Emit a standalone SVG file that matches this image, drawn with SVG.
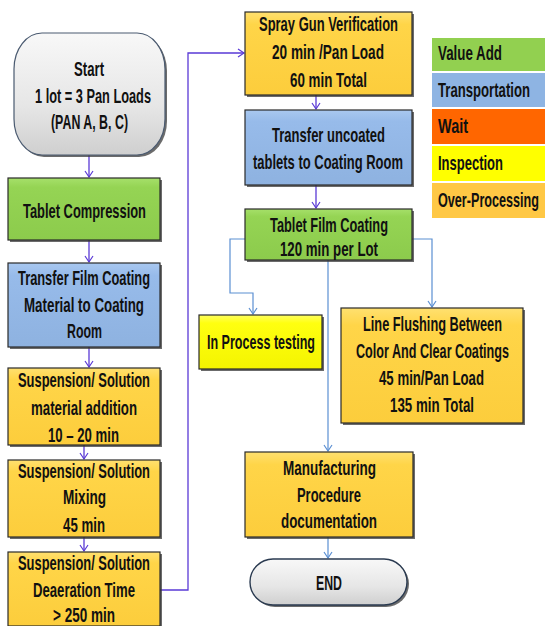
<svg xmlns="http://www.w3.org/2000/svg" width="545" height="626" viewBox="0 0 545 626">
<defs>
<linearGradient id="gGreen" x1="0" y1="0" x2="0" y2="1"><stop offset="0" stop-color="#a6e06a"/><stop offset="0.15" stop-color="#95d454"/><stop offset="1" stop-color="#8ccb4c"/></linearGradient>
<linearGradient id="gBlue" x1="0" y1="0" x2="0" y2="1"><stop offset="0" stop-color="#a9c8f0"/><stop offset="0.15" stop-color="#97bbea"/><stop offset="1" stop-color="#8eb2e0"/></linearGradient>
<linearGradient id="gGold" x1="0" y1="0" x2="0" y2="1"><stop offset="0" stop-color="#ffe070"/><stop offset="0.15" stop-color="#ffd548"/><stop offset="1" stop-color="#fccd3c"/></linearGradient>
<linearGradient id="gYellow" x1="0" y1="0" x2="0" y2="1"><stop offset="0" stop-color="#ffff60"/><stop offset="0.15" stop-color="#ffff10"/><stop offset="1" stop-color="#f4f400"/></linearGradient>
<linearGradient id="gGray" x1="0" y1="0" x2="0" y2="1"><stop offset="0" stop-color="#f8f8f8"/><stop offset="0.6" stop-color="#e6e6e6"/><stop offset="1" stop-color="#cfcfcf"/></linearGradient>
<marker id="arP" markerWidth="10" markerHeight="10" refX="8" refY="5" orient="auto" markerUnits="userSpaceOnUse"><path d="M2,1 L8,5 L2,9" fill="none" stroke="#5a3ad6" stroke-width="1.2"/></marker>
<marker id="arB" markerWidth="10" markerHeight="10" refX="8" refY="5" orient="auto" markerUnits="userSpaceOnUse"><path d="M2,1 L8,5 L2,9" fill="none" stroke="#5b8fd2" stroke-width="1.2"/></marker>
</defs>
<style>
.box{stroke:#2a2a2a;stroke-width:1.2}
.sh{fill:#3a3a3a;opacity:0.75}
.t{font-family:"Liberation Sans",Arial,sans-serif;font-size:20px;font-weight:bold;fill:#111;text-anchor:middle}
.lg{font-family:"Liberation Sans",Arial,sans-serif;font-size:20px;font-weight:bold;fill:#111}
.cp{fill:none;stroke:#5a3ad6;stroke-width:1.3}
.cb{fill:none;stroke:#5b8fd2;stroke-width:1.2}
</style>
<rect width="545" height="626" fill="#ffffff"/>

<g id="connectors">
<path class="cp" d="M89,155 V177" marker-end="url(#arP)"/>
<path class="cp" d="M89,240 V262" marker-end="url(#arP)"/>
<path class="cp" d="M89,347 V367" marker-end="url(#arP)"/>
<path class="cp" d="M84,437 V459" marker-end="url(#arP)"/>
<path class="cp" d="M84,537 V551" marker-end="url(#arP)"/>
<path class="cp" d="M160,590 H188 V53 H244" marker-end="url(#arP)"/>
<path class="cp" d="M316,85 V109" marker-end="url(#arP)"/>
<path class="cp" d="M316,185 V208" marker-end="url(#arP)"/>
<path class="cb" d="M245,239 H230 V293 H253 V314" marker-end="url(#arB)"/>
<path class="cb" d="M412,239 H432 V307" marker-end="url(#arB)"/>
<path class="cb" d="M328,260 V451" marker-end="url(#arB)"/>
<path class="cb" d="M328,537 V558" marker-end="url(#arB)"/>
</g>

<g id="start">
<rect x="16" y="35" width="151" height="122" rx="28" ry="36" class="sh"/>
<rect x="14" y="33" width="151" height="122" rx="28" ry="36" fill="url(#gGray)" stroke="#4a5a70" stroke-width="1.2"/>
<text class="t" transform="translate(89,76) scale(0.65,1)" textLength="46.2" lengthAdjust="spacingAndGlyphs">Start</text>
<text class="t" transform="translate(93,103) scale(0.65,1)" textLength="178.5" lengthAdjust="spacingAndGlyphs">1 lot = 3 Pan Loads</text>
<text class="t" transform="translate(89.5,129) scale(0.65,1)" textLength="118.5" lengthAdjust="spacingAndGlyphs">(PAN A, B, C)</text>
</g>

<g id="tablet-compression">
<rect x="10" y="180" width="152" height="62" class="sh"/>
<rect x="8" y="178" width="152" height="62" fill="url(#gGreen)" class="box"/>
<text class="t" transform="translate(84.5,218) scale(0.65,1)" textLength="189.2" lengthAdjust="spacingAndGlyphs">Tablet Compression</text>
</g>

<g id="transfer-film">
<rect x="10" y="265" width="152" height="84" class="sh"/>
<rect x="8" y="263" width="152" height="84" fill="url(#gBlue)" class="box"/>
<text class="t" transform="translate(84,285) scale(0.65,1)" textLength="203.1" lengthAdjust="spacingAndGlyphs">Transfer Film Coating</text>
<text class="t" transform="translate(84,312) scale(0.65,1)" textLength="184.6" lengthAdjust="spacingAndGlyphs">Material to Coating</text>
<text class="t" transform="translate(84.5,338) scale(0.65,1)" textLength="53.8" lengthAdjust="spacingAndGlyphs">Room</text>
</g>

<g id="susp-addition">
<rect x="10" y="370" width="152" height="77" class="sh"/>
<rect x="8" y="368" width="152" height="77" fill="url(#gGold)" class="box"/>
<text class="t" transform="translate(84,387) scale(0.65,1)" textLength="203.1" lengthAdjust="spacingAndGlyphs">Suspension/ Solution</text>
<text class="t" transform="translate(84,415) scale(0.65,1)" textLength="163.1" lengthAdjust="spacingAndGlyphs">material addition</text>
<text class="t" transform="translate(83.5,442) scale(0.65,1)" textLength="109.2" lengthAdjust="spacingAndGlyphs">10 – 20 min</text>
</g>

<g id="susp-mixing">
<rect x="10" y="462" width="152" height="77" class="sh"/>
<rect x="8" y="460" width="152" height="77" fill="url(#gGold)" class="box"/>
<text class="t" transform="translate(84,478) scale(0.65,1)" textLength="203.1" lengthAdjust="spacingAndGlyphs">Suspension/ Solution</text>
<text class="t" transform="translate(84.5,504) scale(0.65,1)" textLength="66.2" lengthAdjust="spacingAndGlyphs">Mixing</text>
<text class="t" transform="translate(84,532) scale(0.65,1)" textLength="64.6" lengthAdjust="spacingAndGlyphs">45 min</text>
</g>

<g id="susp-deaeration">
<rect x="10" y="554" width="152" height="74" class="sh"/>
<rect x="8" y="552" width="152" height="74" fill="url(#gGold)" class="box"/>
<text class="t" transform="translate(84,570) scale(0.65,1)" textLength="203.1" lengthAdjust="spacingAndGlyphs">Suspension/ Solution</text>
<text class="t" transform="translate(84,597) scale(0.65,1)" textLength="156.9" lengthAdjust="spacingAndGlyphs">Deaeration Time</text>
<text class="t" transform="translate(84,622) scale(0.65,1)" textLength="95.4" lengthAdjust="spacingAndGlyphs">&gt; 250 min</text>
</g>

<g id="spray-gun">
<rect x="247" y="14" width="167" height="83" class="sh"/>
<rect x="245" y="12" width="167" height="83" fill="url(#gGold)" class="box"/>
<text class="t" transform="translate(328.5,31) scale(0.65,1)" textLength="213.8" lengthAdjust="spacingAndGlyphs">Spray Gun Verification</text>
<text class="t" transform="translate(328,59) scale(0.65,1)" textLength="172.3" lengthAdjust="spacingAndGlyphs">20 min /Pan  Load</text>
<text class="t" transform="translate(328.5,87) scale(0.65,1)" textLength="118.5" lengthAdjust="spacingAndGlyphs">60 min Total</text>
</g>

<g id="transfer-uncoated">
<rect x="247" y="112" width="167" height="75" class="sh"/>
<rect x="245" y="110" width="167" height="75" fill="url(#gBlue)" class="box"/>
<text class="t" transform="translate(328.5,142) scale(0.65,1)" textLength="173.8" lengthAdjust="spacingAndGlyphs">Transfer uncoated</text>
<text class="t" transform="translate(328,169) scale(0.65,1)" textLength="230.8" lengthAdjust="spacingAndGlyphs">tablets to Coating Room</text>
</g>

<g id="film-coating">
<rect x="247" y="211" width="167" height="51" class="sh"/>
<rect x="245" y="209" width="167" height="51" fill="url(#gGreen)" class="box"/>
<text class="t" transform="translate(329,232) scale(0.65,1)" textLength="181.5" lengthAdjust="spacingAndGlyphs">Tablet Film Coating</text>
<text class="t" transform="translate(329,256) scale(0.65,1)" textLength="150.8" lengthAdjust="spacingAndGlyphs">120 min per Lot</text>
</g>

<g id="in-process">
<rect x="201" y="317" width="123" height="54" class="sh"/>
<rect x="199" y="315" width="123" height="54" fill="url(#gYellow)" class="box"/>
<text class="t" transform="translate(261,349) scale(0.65,1)" textLength="166.2" lengthAdjust="spacingAndGlyphs">In Process testing</text>
</g>

<g id="line-flushing">
<rect x="343" y="310" width="182" height="115" class="sh"/>
<rect x="341" y="308" width="182" height="115" fill="url(#gGold)" class="box"/>
<text class="t" transform="translate(432.5,331) scale(0.65,1)" textLength="213.8" lengthAdjust="spacingAndGlyphs">Line Flushing Between</text>
<text class="t" transform="translate(432.5,358) scale(0.65,1)" textLength="235.4" lengthAdjust="spacingAndGlyphs">Color And Clear Coatings</text>
<text class="t" transform="translate(431.5,385) scale(0.65,1)" textLength="161.5" lengthAdjust="spacingAndGlyphs">45 min/Pan Load</text>
<text class="t" transform="translate(432,412) scale(0.65,1)" textLength="129.2" lengthAdjust="spacingAndGlyphs">135 min Total</text>
</g>

<g id="manufacturing">
<rect x="247" y="454" width="168" height="85" class="sh"/>
<rect x="245" y="452" width="168" height="85" fill="url(#gGold)" class="box"/>
<text class="t" transform="translate(329.5,475) scale(0.65,1)" textLength="143.1" lengthAdjust="spacingAndGlyphs">Manufacturing</text>
<text class="t" transform="translate(329,502) scale(0.65,1)" textLength="98.5" lengthAdjust="spacingAndGlyphs">Procedure</text>
<text class="t" transform="translate(329,528) scale(0.65,1)" textLength="147.7" lengthAdjust="spacingAndGlyphs">documentation</text>
</g>

<g id="end">
<rect x="252" y="561" width="157" height="46" rx="23" class="sh"/>
<rect x="250" y="559" width="157" height="46" rx="23" fill="url(#gGray)" stroke="#2a3a50" stroke-width="1.4"/>
<text class="t" transform="translate(329,590) scale(0.65,1)" textLength="40" lengthAdjust="spacingAndGlyphs">END</text>
</g>

<g id="legend">
<rect x="432" y="38" width="113" height="33" fill="#92d050"/>
<rect x="432" y="73" width="113" height="34" fill="#8eb4e3"/>
<rect x="432" y="109" width="113" height="35" fill="#ff6600"/>
<rect x="432" y="146" width="113" height="35" fill="#ffff00"/>
<rect x="432" y="183" width="113" height="35" fill="#ffc845"/>
<text class="lg" transform="translate(438,60) scale(0.65,1)" textLength="98.5" lengthAdjust="spacingAndGlyphs">Value Add</text>
<text class="lg" transform="translate(438,97) scale(0.65,1)" textLength="141.5" lengthAdjust="spacingAndGlyphs">Transportation</text>
<text class="lg" transform="translate(438,133) scale(0.65,1)" textLength="46.2" lengthAdjust="spacingAndGlyphs">Wait</text>
<text class="lg" transform="translate(438,170) scale(0.65,1)" textLength="100" lengthAdjust="spacingAndGlyphs">Inspection</text>
<text class="lg" transform="translate(438,207) scale(0.65,1)" textLength="155.4" lengthAdjust="spacingAndGlyphs">Over-Processing</text>
</g>
</svg>
